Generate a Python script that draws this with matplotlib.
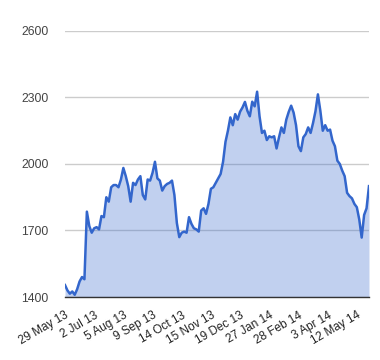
import matplotlib
matplotlib.use("Agg")
import matplotlib.pyplot as plt
import numpy as np

plt.rcParams['font.family'] = ['Liberation Sans', 'DejaVu Sans']

values = [1454, 1430, 1415, 1425, 1410, 1435, 1470, 1490, 1480, 1785,
          1720, 1690, 1710, 1715, 1705, 1765, 1760, 1850, 1830, 1895,
          1905, 1905, 1895, 1930, 1982, 1945, 1900, 1830, 1915, 1905,
          1930, 1945, 1860, 1840, 1930, 1925, 1960, 2010, 1935, 1925,
          1880, 1900, 1910, 1915, 1925, 1860, 1734, 1670, 1690, 1695,
          1690, 1760, 1730, 1710, 1705, 1695, 1790, 1800, 1775, 1820,
          1888, 1895, 1915, 1935, 1955, 2010, 2100, 2150, 2210, 2175,
          2225, 2200, 2236, 2255, 2280, 2240, 2215, 2281, 2260, 2326,
          2215, 2140, 2150, 2108, 2125, 2120, 2125, 2070, 2120, 2165,
          2140, 2200, 2235, 2263, 2232, 2175, 2080, 2058, 2120, 2135,
          2165, 2140, 2185, 2238, 2314, 2240, 2150, 2175, 2150, 2155,
          2105, 2080, 2015, 2000, 1970, 1945, 1870, 1855, 1845, 1820,
          1805, 1750, 1668, 1770, 1800, 1900]
tick_labels = ["29 May 13", "2 Jul 13", "5 Aug 13", "9 Sep 13", "14 Oct 13",
               "15 Nov 13", "19 Dec 13", "27 Jan 14", "28 Feb 14", "3 Apr 14",
               "12 May 14"]
yticks = [1400, 1700, 2000, 2300, 2600]
label_step = 12

x = np.arange(len(values))
line_color = "#3366cc"

fig = plt.figure(figsize=(3.8, 3.6), dpi=100)
ax = fig.add_axes([0.171, 0.175, 0.8, 0.739])

ax.fill_between(x, 1400, values, color=line_color, alpha=0.3, linewidth=0)
ax.plot(x, values, color=line_color, linewidth=1.8)

ax.set_xlim(0, len(values) - 1)
ax.set_ylim(1400, 2600)
ax.set_yticks(yticks)
ax.set_yticklabels([str(v) for v in yticks])
ax.set_xticks(x[::label_step])
ax.set_xticklabels(tick_labels, rotation=30, ha='right', rotation_mode='anchor')

ax.grid(axis='y', color='#cccccc', linewidth=1)
ax.set_axisbelow(True)
for s in ['top', 'right', 'left']:
    ax.spines[s].set_visible(False)
ax.spines['bottom'].set_color('#333333')
ax.spines['bottom'].set_linewidth(1)
ax.tick_params(axis='y', length=0, pad=12, labelsize=8.8, labelcolor='#444444')
ax.tick_params(axis='x', length=0, pad=9, labelsize=8.5, labelcolor='#222222')

plt.savefig("out.png", dpi=100)
